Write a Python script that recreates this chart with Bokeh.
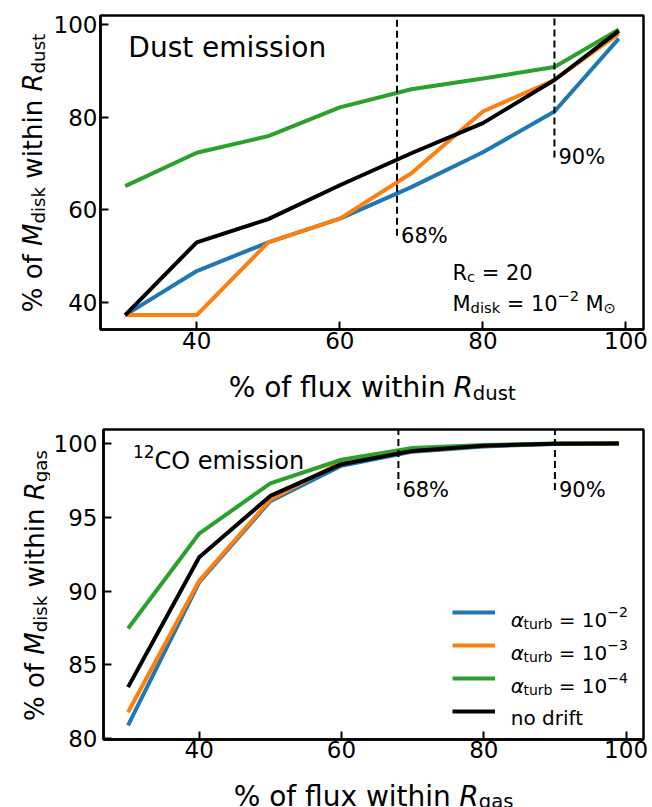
import math
from bokeh.plotting import figure
from bokeh.models import Range1d, FixedTicker, Label, Legend, LegendItem
from bokeh.layouts import column, row
from bokeh.embed import file_html
from bokeh.resources import INLINE

# ---------------- data ----------------
flux_pct = [30, 40, 50, 60, 70, 80, 90, 99]

dust_alpha_1e2 = [37.3, 46.8, 53.0, 58.1, 64.9, 72.4, 81.2, 96.9]
dust_alpha_1e3 = [37.3, 37.3, 53.0, 58.1, 67.9, 81.2, 88.0, 98.0]
dust_alpha_1e4 = [65.1, 72.3, 75.9, 82.1, 86.0, 88.3, 90.8, 98.9]
dust_no_drift = [37.3, 53.0, 58.0, 65.3, 72.2, 78.7, 88.0, 98.6]

gas_alpha_1e2 = [80.9, 90.6, 96.1, 98.5, 99.45, 99.8, 99.97, 100.0]
gas_alpha_1e3 = [81.8, 90.7, 96.2, 98.75, 99.5, 99.85, 99.98, 100.0]
gas_alpha_1e4 = [87.47, 93.9, 97.3, 98.9, 99.7, 99.9, 100.0, 100.0]
gas_no_drift = [83.5, 92.3, 96.45, 98.6, 99.5, 99.85, 99.98, 100.0]

series_colors = ["#1f77b4", "#ff7f0e", "#2ca02c", "#000000"]
legend_alpha_exp = ["\u22122", "\u22123", "\u22124"]

vline_x = [68, 90]
vline_labels = ["68%", "90%"]
dust_vline_bottom = [54.4, 71.3]
gas_vline_bottom = [96.85, 96.85]

x_ticks = [40, 60, 80, 100]
dust_y_ticks = [40, 60, 80, 100]
gas_y_ticks = [80, 85, 90, 95, 100]

X_RANGE = (26.55, 102.45)
DUST_Y_RANGE = (34.2, 101.9)
GAS_Y_RANGE = (79.95, 100.95)

FONT = "DejaVu Sans"

# DejaVu Sans advance widths (units per em = 2048)
ADV = {' ': 651, '%': 1946, 'o': 1253, 'f': 721, 'l': 569, 'u': 1298, 'x': 1212,
       'w': 1675, 'i': 569, 't': 803, 'h': 1298, 'n': 1298, 'd': 1300, 's': 1067,
       'k': 1186, 'g': 1300, 'a': 1255, 'b': 1300, 'r': 842, 'c': 1126, 'e': 1260,
       'm': 1995, 'M': 1767, 'R': 1423, 'C': 1430, 'O': 1612, '=': 1716,
       '\u2212': 1716, '\u2299': 1716, '\u03b1': 1300, 'D': 1577}
for dgt in "0123456789":
    ADV[dgt] = 1303


def text_width(s, size):
    return sum(ADV.get(ch, 1250) for ch in s) / 2048.0 * size


def make_conv(fx, fy, fw, fh, xr, yr):
    def conv(px, py):
        x = xr[0] + (px - fx) / fw * (xr[1] - xr[0])
        y = yr[1] - (py - fy) / fh * (yr[1] - yr[0])
        return x, y
    return conv


def rich(p, conv, pieces, x0, y0, vertical=False):
    """pieces: (text, size_px, italic, raise_px); x0,y0 page pixels of the baseline start"""
    cur = 0.0
    for text, size, italic, rise in pieces:
        stripped = text.lstrip(" ")
        cur += (len(text) - len(stripped)) * ADV[" "] / 2048.0 * size
        if vertical:
            px, py = x0 - rise, y0 - cur
        else:
            px, py = x0 + cur, y0 - rise
        x, y = conv(px, py)
        p.add_layout(Label(x=x, y=y, text=stripped.rstrip(" "), text_font=FONT,
                           text_font_size=f"{size}px",
                           text_font_style="italic" if italic else "normal",
                           text_align="left", text_baseline="alphabetic",
                           angle=(math.pi / 2 if vertical else 0.0),
                           text_color="black"))
        cur += text_width(stripped, size)
    return cur


def pieces_width(pieces):
    return sum(text_width(t, s) for t, s, _, _ in pieces)


def style(p, xticks, yticks, std_x, std_y):
    p.title.visible = False
    p.xgrid.visible = False
    p.ygrid.visible = False
    p.outline_line_color = "black"
    p.outline_line_width = 2.5
    p.outline_line_alpha = 1.0
    p.xaxis.ticker = FixedTicker(ticks=xticks)
    p.yaxis.ticker = FixedTicker(ticks=yticks)
    for ax in (p.xaxis[0], p.yaxis[0]):
        ax.major_tick_in = 8
        ax.major_tick_out = 0
        ax.minor_tick_in = 0
        ax.minor_tick_out = 0
        ax.major_tick_line_width = 2
        ax.major_tick_line_color = "black"
        ax.axis_line_width = 2.5
        ax.axis_line_color = "black"
        ax.major_label_text_font = FONT
        ax.major_label_text_font_size = "23px"
        ax.major_label_text_color = "black"
    p.xaxis.major_label_standoff = std_x
    p.yaxis.major_label_standoff = std_y


def aux_fig(ox, oy, w, h, left=0, right=0):
    """Text-only figure; its frame spans page x ox+left .. ox+w-right, y oy .. oy+h."""
    fw = w - left - right
    f = figure(width=w, height=h, x_range=Range1d(0, fw), y_range=Range1d(0, h),
               x_axis_type=None, y_axis_type=None, output_backend="svg",
               toolbar_location=None, min_border=0,
               min_border_left=left, min_border_right=right, min_border_top=0, min_border_bottom=0,
               outline_line_color=None)
    f.title.visible = False
    return f, make_conv(ox + left, oy, fw, h, (0, fw), (0, h))


LW = 4
YLAB_W = 50

# ---------------- top panel: dust ----------------
T_FX, T_FY, T_FW, T_FH = 97, 15, 546, 314
P1_W, P1_H = 600, 359
P1_LEFT = T_FX - YLAB_W
P1_RIGHT = P1_W - P1_LEFT - T_FW
p1 = figure(width=P1_W, height=P1_H, output_backend="svg", toolbar_location=None,
            x_range=Range1d(*X_RANGE), y_range=Range1d(*DUST_Y_RANGE),
            min_border_left=P1_LEFT, min_border_right=P1_RIGHT,
            min_border_top=T_FY, min_border_bottom=P1_H - T_FY - T_FH)
style(p1, x_ticks, dust_y_ticks, 2, 3)
conv1 = make_conv(T_FX, T_FY, T_FW, T_FH, X_RANGE, DUST_Y_RANGE)

for ys, col in zip([dust_alpha_1e2, dust_alpha_1e3, dust_alpha_1e4, dust_no_drift], series_colors):
    p1.line(flux_pct, ys, line_color=col, line_width=LW)

p1.segment(x0=vline_x, y0=dust_vline_bottom, x1=vline_x, y1=[DUST_Y_RANGE[1]] * len(vline_x),
           line_color="black", line_width=2, line_dash="7 4")
for xv, yb, lab in zip(vline_x, dust_vline_bottom, vline_labels):
    p1.add_layout(Label(x=xv, y=yb, text=lab, x_offset=4, text_font=FONT, text_font_size="21px",
                        text_align="left", text_baseline="alphabetic", text_color="black"))

rich(p1, conv1, [("Dust emission", 28, False, 0)], 125, 47)
rich(p1, conv1, [("R", 21, False, 0), ("c", 14.7, False, -4.4), (" = 20", 21, False, 0)], 451, 272)
rich(p1, conv1, [("M", 21, False, 0), ("disk", 14.7, False, -4.4), (" = 10", 21, False, 0),
                 ("\u22122", 14.7, False, 7.8), (" M", 21, False, 0), ("\u2299", 14.7, False, -4.4)],
     451, 303)

TOP_H = 400
xlab1, cx1 = aux_fig(YLAB_W, P1_H, P1_W, TOP_H - P1_H, left=P1_LEFT, right=P1_RIGHT)
xl1 = [("% of flux within ", 28, False, 0), ("R", 28, True, 0), ("dust", 19.6, False, -5.9)]
rich(xlab1, cx1, xl1, (2 * T_FX + T_FW) / 2 - pieces_width(xl1) / 2, 387)

ylab1, cy1 = aux_fig(0, 0, YLAB_W, TOP_H)
yl1 = [("% of ", 26, False, 0), ("M", 26, True, 0), ("disk", 18.2, False, -5.5),
       (" within ", 26, False, 0), ("R", 26, True, 0), ("dust", 18.2, False, -5.5)]
rich(ylab1, cy1, yl1, 32, 172.5 + pieces_width(yl1) / 2, vertical=True)

# ---------------- bottom panel: gas ----------------
B_FX, B_FY, B_FW, B_FH = 102, 429, 541, 310
P2_W, P2_H = 600, 368
P2_LEFT = B_FX - YLAB_W
P2_RIGHT = P2_W - P2_LEFT - B_FW
p2 = figure(width=P2_W, height=P2_H, output_backend="svg", toolbar_location=None,
            x_range=Range1d(*X_RANGE), y_range=Range1d(*GAS_Y_RANGE),
            min_border_left=P2_LEFT, min_border_right=P2_RIGHT,
            min_border_top=B_FY - TOP_H, min_border_bottom=P2_H - (B_FY - TOP_H) - B_FH)
style(p2, x_ticks, gas_y_ticks, 1, 6)
conv2 = make_conv(B_FX, B_FY, B_FW, B_FH, X_RANGE, GAS_Y_RANGE)

gas_renderers = []
for ys, col in zip([gas_alpha_1e2, gas_alpha_1e3, gas_alpha_1e4, gas_no_drift], series_colors):
    gas_renderers.append(p2.line(flux_pct, ys, line_color=col, line_width=LW))

p2.segment(x0=vline_x, y0=gas_vline_bottom, x1=vline_x, y1=[GAS_Y_RANGE[1]] * len(vline_x),
           line_color="black", line_width=2, line_dash="7 4")
for xv, yb, lab in zip(vline_x, gas_vline_bottom, vline_labels):
    p2.add_layout(Label(x=xv, y=yb, text=lab, x_offset=4, text_font=FONT, text_font_size="21px",
                        text_align="left", text_baseline="alphabetic", text_color="black"))

rich(p2, conv2, [("12", 17, False, 9.3), ("CO emission", 24, False, 0)], 131.5, 460)

# legend: line samples via Bokeh Legend, rich labels overlaid
LEG_MARGIN, LEG_ROW, LEG_SPACING = 12, 32, 1
legend = Legend(items=[LegendItem(label=" ", renderers=[r]) for r in gas_renderers],
                location="bottom_right", margin=LEG_MARGIN, padding=0, spacing=LEG_SPACING,
                glyph_width=43, glyph_height=LEG_ROW, label_height=LEG_ROW, label_width=121,
                label_standoff=15, label_text_font_size="20px",
                border_line_alpha=0, background_fill_alpha=0)
p2.add_layout(legend)

n_items = len(gas_renderers)
leg_top = B_FY + B_FH - LEG_MARGIN - (n_items * LEG_ROW + (n_items - 1) * LEG_SPACING)
row_centers = [leg_top + i * (LEG_ROW + LEG_SPACING) + LEG_ROW / 2 for i in range(n_items)]
for i, exp in enumerate(legend_alpha_exp):
    rich(p2, conv2, [("\u03b1", 20, True, 0), ("turb", 14, False, -4.2), (" = 10", 20, False, 0),
                     (exp, 14, False, 7.4)], 510, row_centers[i] + 7)
rich(p2, conv2, [("no drift", 20, False, 0)], 510, row_centers[3] + 6)

BOT_H = 407
xlab2, cx2 = aux_fig(YLAB_W, TOP_H + P2_H, P2_W, BOT_H - P2_H, left=P2_LEFT, right=P2_RIGHT)
xl2 = [("% of flux within ", 28, False, 0), ("R", 28, True, 0), ("gas", 19.6, False, -5.9)]
rich(xlab2, cx2, xl2, (2 * B_FX + B_FW) / 2 - pieces_width(xl2) / 2, 795.5)

ylab2, cy2 = aux_fig(0, TOP_H, YLAB_W, BOT_H)
yl2 = [("% of ", 26, False, 0), ("M", 26, True, 0), ("disk", 18.2, False, -5.5),
       (" within ", 26, False, 0), ("R", 26, True, 0), ("gas", 18.2, False, -5.5)]
rich(ylab2, cy2, yl2, 34.5, 585 + pieces_width(yl2) / 2, vertical=True)

layout = column(row(ylab1, column(p1, xlab1)), row(ylab2, column(p2, xlab2)))
open("out.html", "w").write(file_html(layout, INLINE))
